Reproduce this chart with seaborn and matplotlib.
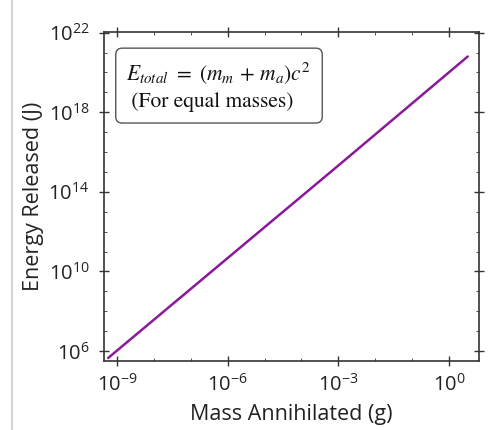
import matplotlib
matplotlib.use("Agg")
import matplotlib.pyplot as plt
import matplotlib.ticker as mticker
from matplotlib.lines import Line2D
import seaborn as sns
import pandas as pd

# Data
mass_g = [5.8e-10, 1e-6, 1e-3, 3.2]
energy_J = [4.5e5, 4.7e10, 2.1e15, 6.3e20]

x_ticks = [1e-9, 1e-6, 1e-3, 1e0]
y_ticks = [1e6, 1e10, 1e14, 1e18, 1e22]

sns.set_style("ticks")
plt.rcParams["font.family"] = ["Open Sans", "DejaVu Sans"]
plt.rcParams["mathtext.fontset"] = "stix"

df = pd.DataFrame({"mass": mass_g, "energy": energy_J})

fig = plt.figure(figsize=(4.93, 4.30), dpi=100)
ax = fig.add_axes([104/493, 1 - 361/430, 375/493, 329/430])
sns.lineplot(data=df, x="mass", y="energy", ax=ax, color="#8a1a9a", linewidth=1.8)

ax.set_xscale("log")
ax.set_yscale("log")
ax.set_xlim(10**-9.35, 10**0.81)
ax.set_ylim(10**5.5, 10**22.03)
ax.set_xticks(x_ticks)
ax.set_yticks(y_ticks)
ax.xaxis.set_minor_locator(mticker.LogLocator(base=10, subs=(1.0,), numticks=30))
ax.yaxis.set_minor_locator(mticker.LogLocator(base=10, subs="all", numticks=40))
ax.xaxis.set_minor_formatter(mticker.NullFormatter())
ax.yaxis.set_minor_formatter(mticker.NullFormatter())
ax.tick_params(which="both", top=True, right=True, colors="#333333",
               labelcolor="#222222")
ax.tick_params(which="major", direction="inout", length=7, width=1, labelsize=14.5)
ax.tick_params(axis="x", which="major", pad=6)
ax.tick_params(axis="y", which="major", pad=7)
ax.tick_params(which="minor", direction="in", length=2.5, width=0.6)
for s in ax.spines.values():
    s.set_color("#333333")
    s.set_linewidth(1.2)

ax.set_xlabel("Mass Annihilated (g)", fontsize=15.5, color="#222222", labelpad=6)
ax.set_ylabel("Energy Released (J)", fontsize=15.5, color="#222222", labelpad=3)

ax.text(0.06, 0.915,
        r"$E_{total}\ =\ (m_m\, +\, m_a)c^2$" + "\n" + " (For equal masses)",
        transform=ax.transAxes, ha="left", va="top", fontsize=15.5,
        family="STIXGeneral", linespacing=1.45, color="#111111",
        bbox=dict(boxstyle="round,pad=0.5,rounding_size=0.3", fc="white",
                  ec="#555555", lw=1.0))

fig.add_artist(Line2D([12/493, 12/493], [0, 1], color="#cccccc", lw=1.2,
                      transform=fig.transFigure))

fig.savefig("out.png", dpi=100, facecolor="white")
